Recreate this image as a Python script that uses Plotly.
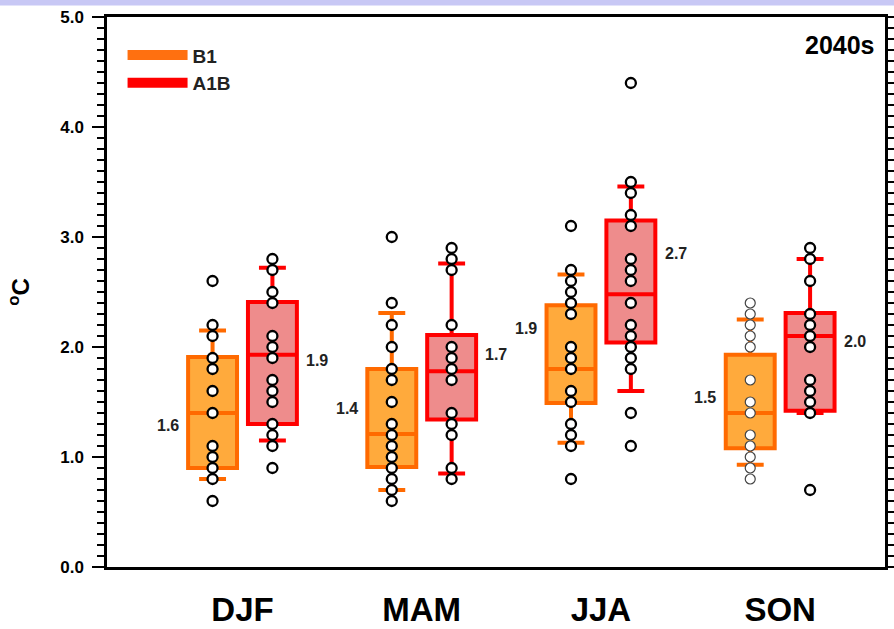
import plotly.graph_objects as go

categories = ["DJF", "MAM", "JJA", "SON"]

# individual model values (degC)
b1_points = [
    [2.6, 2.2, 2.1, 1.9, 1.8, 1.6, 1.4, 1.1, 1.0, 0.9, 0.8, 0.6],
    [3.0, 2.4, 2.2, 2.0, 1.8, 1.7, 1.5, 1.3, 1.2, 1.1, 1.0, 0.9, 0.8, 0.7, 0.6],
    [3.1, 2.7, 2.6, 2.5, 2.4, 2.3, 2.0, 1.9, 1.8, 1.6, 1.5, 1.3, 1.2, 1.1, 0.8],
    [2.4, 2.3, 2.2, 2.1, 2.0, 1.7, 1.5, 1.4, 1.2, 1.1, 1.0, 0.9, 0.8],
]
a1b_points = [
    [2.8, 2.7, 2.5, 2.4, 2.1, 2.0, 1.9, 1.7, 1.6, 1.5, 1.3, 1.2, 1.1, 0.9],
    [2.9, 2.8, 2.7, 2.2, 2.0, 1.9, 1.8, 1.7, 1.4, 1.3, 1.2, 0.9, 0.8],
    [4.4, 3.5, 3.4, 3.2, 3.1, 2.8, 2.7, 2.6, 2.4, 2.2, 2.1, 2.0, 1.9, 1.8, 1.4, 1.1],
    [2.9, 2.8, 2.6, 2.3, 2.2, 2.1, 2.0, 1.7, 1.6, 1.5, 1.4, 0.7],
]

# box statistics
b1_q1 = [0.90, 0.91, 1.49, 1.08]
b1_median = [1.40, 1.21, 1.80, 1.40]
b1_q3 = [1.91, 1.80, 2.38, 1.93]
b1_low = [0.80, 0.70, 1.13, 0.93]
b1_high = [2.15, 2.31, 2.66, 2.25]

a1b_q1 = [1.30, 1.34, 2.04, 1.42]
a1b_median = [1.93, 1.78, 2.48, 2.10]
a1b_q3 = [2.41, 2.11, 3.15, 2.31]
a1b_low = [1.15, 0.85, 1.60, 1.40]
a1b_high = [2.72, 2.76, 3.46, 2.80]

# mean labels
b1_labels = ["1.6", "1.4", "1.9", "1.5"]
a1b_labels = ["1.9", "1.7", "2.7", "2.0"]
b1_label_y = [1.29, 1.445, 2.17, 1.54]
a1b_label_y = [1.88, 1.93, 2.85, 2.05]

# ---- styling ----
FONT = "Liberation Sans, Arial, sans-serif"
OFF = 0.167
BOXW = 0.273
LABEL_OFF = 0.25
B1_LINE, B1_FILL = "#FF6A00", "rgba(255,165,50,0.95)"
A1B_LINE, A1B_FILL = "#FF0000", "rgba(238,140,140,1)"

idx = list(range(len(categories)))
fig = go.Figure()

for name, q1, med, q3, lo, hi, off, lc, fc in [
    ("B1", b1_q1, b1_median, b1_q3, b1_low, b1_high, -OFF, B1_LINE, B1_FILL),
    ("A1B", a1b_q1, a1b_median, a1b_q3, a1b_low, a1b_high, OFF, A1B_LINE, A1B_FILL),
]:
    xs = [i + off for i in idx]
    fig.add_trace(go.Box(
        x=xs, q1=q1, median=med, q3=q3, lowerfence=lo, upperfence=hi,
        width=BOXW, whiskerwidth=0.55, boxpoints=False,
        line=dict(color=lc, width=4), fillcolor=fc,
        showlegend=False, hoverinfo="skip", name=name,
    ))

for pts_all, off, thin in [(b1_points, -OFF, True), (a1b_points, OFF, False)]:
    for i, pts in enumerate(pts_all):
        son_thin = thin and categories[i] == "SON"
        fig.add_trace(go.Scatter(
            x=[i + off] * len(pts), y=pts, mode="markers",
            marker=dict(size=10, color="white",
                        line=dict(color="#444444" if son_thin else "black",
                                  width=1.2 if son_thin else 2.3)),
            showlegend=False, hoverinfo="skip",
        ))

# legend entries
fig.add_trace(go.Scatter(x=[None], y=[None], mode="lines", name="<b>B1</b>",
                         line=dict(color="#FF7010", width=14)))
fig.add_trace(go.Scatter(x=[None], y=[None], mode="lines", name="<b>A1B</b>",
                         line=dict(color="#FF0000", width=14)))

ann = []
for i in idx:
    ann.append(dict(x=i - OFF - LABEL_OFF, y=b1_label_y[i], text="<b>%s</b>" % b1_labels[i],
                    showarrow=False, font=dict(family=FONT, size=16, color="#222"),
                    xref="x", yref="y"))
    ann.append(dict(x=i + OFF + LABEL_OFF, y=a1b_label_y[i], text="<b>%s</b>" % a1b_labels[i],
                    showarrow=False, font=dict(family=FONT, size=16, color="#222"),
                    xref="x", yref="y"))
ann.append(dict(x=0.99, y=0.978, xref="paper", yref="paper", xanchor="right", yanchor="top",
                text="<b>2040s</b>", showarrow=False,
                font=dict(family=FONT, size=25, color="black")))

fig.update_layout(
    width=894, height=629,
    margin=dict(l=107, r=9, t=17, b=62, autoexpand=False),
    paper_bgcolor="white", plot_bgcolor="white",
    boxmode="overlay",
    showlegend=True,
    legend=dict(x=0.02, y=0.965, xanchor="left", yanchor="top",
                font=dict(family=FONT, size=19, color="#222"),
                bgcolor="rgba(0,0,0,0)", itemwidth=60, tracegroupgap=0),
    annotations=ann,
    shapes=[dict(type="rect", xref="paper", yref="paper", x0=-0.2, x1=1.05,
                 y0=1 + 11.5 / 550, y1=1 + 17 / 550, fillcolor="#C8C8F5",
                 line=dict(width=0), layer="below")],
)

fig.update_xaxes(
    range=[-0.756, 3.585], tickvals=idx, ticktext=["<b>%s</b>" % c for c in categories],
    tickfont=dict(family=FONT, size=33, color="black"),
    showline=True, linecolor="black", linewidth=2.5, mirror=True,
    ticks="", showgrid=False, zeroline=False, ticklabelstandoff=12, automargin=False,
)
fig.update_yaxes(
    range=[0, 5], tickvals=[0, 1, 2, 3, 4, 5],
    ticktext=["<b>%.1f</b>" % v for v in [0, 1, 2, 3, 4, 5]],
    tickfont=dict(family=FONT, size=17, color="black"),
    showline=True, linecolor="black", linewidth=2.5, mirror="ticks",
    ticks="outside", ticklen=12, tickwidth=2, tickcolor="black",
    minor=dict(dtick=0.1, ticks="outside", ticklen=7, tickwidth=1.5, tickcolor="black"),
    showgrid=False, zeroline=False, automargin=False, ticklabelstandoff=5,
    title=dict(text="<b><sup>o</sup>C</b>", font=dict(family=FONT, size=24, color="black"), standoff=24),
)

fig.write_html("out.html", config={"displayModeBar": False},
               post_script="document.body.style.margin='0';document.body.style.overflow='hidden';")
